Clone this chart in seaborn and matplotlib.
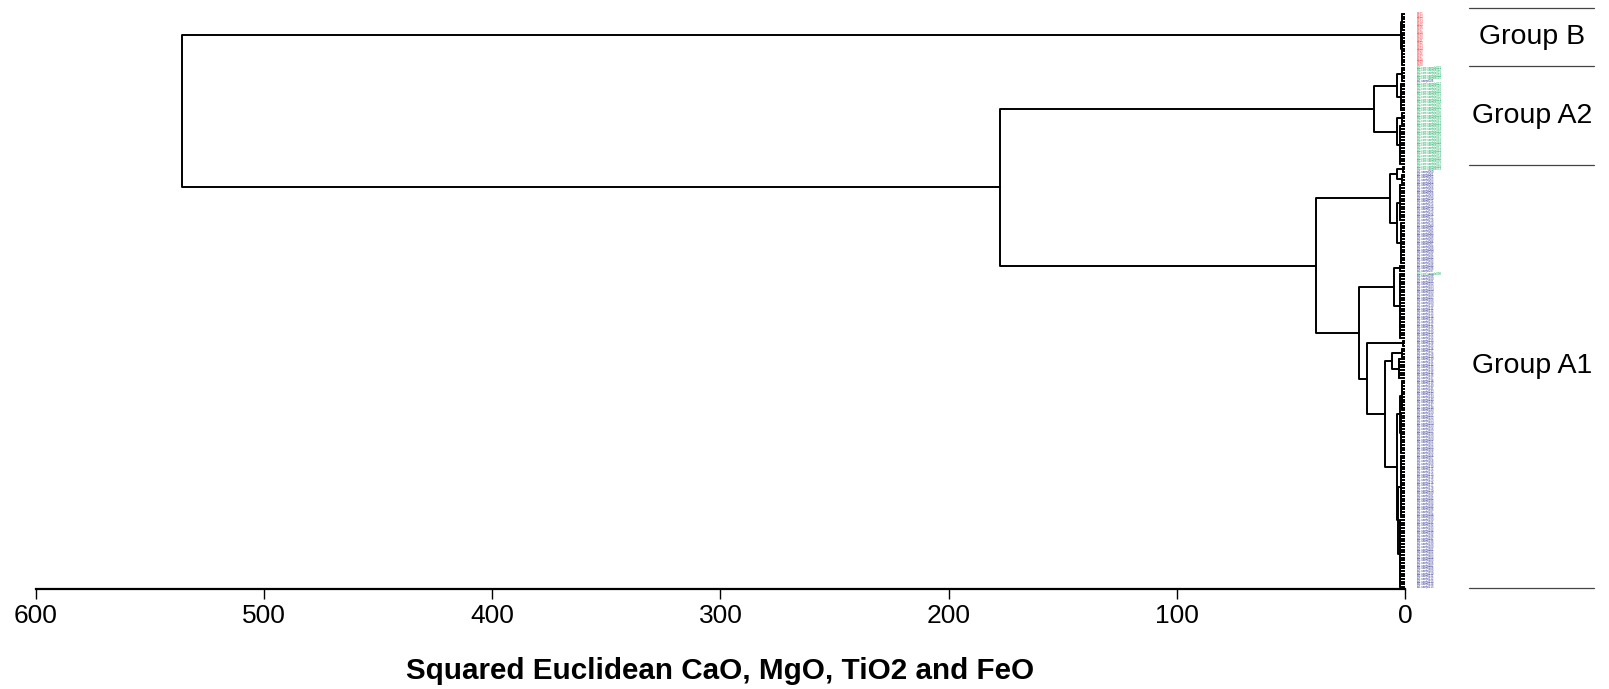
"""
Dendrogram of squared Euclidean distance on CaO, MgO, TiO2 and FeO.

Tree is stored as terminal twigs (tight clusters, drawn as fans) plus a
list of merges with their linkage distance, read off the reference chart.
"""

import numpy as np
import pandas as pd
import matplotlib
matplotlib.use("Agg")
import matplotlib.pyplot as plt
from matplotlib.lines import Line2D
import seaborn as sns

# Terminal clusters, top to bottom
twig_names = ["B1", "B2", "A2a1", "A2a2", "A2b1", "A2b2", "A1a1x", "A1a1y",
              "A1a2x", "A1a2y", "A1b1x", "A1b1y", "A1b2x", "C1x", "C1y",
              "C2ax", "C2ay", "C2bx", "C2by"]
twig_sizes = [7, 13, 6, 11, 5, 15, 3, 4, 14, 16, 3, 25, 3, 4, 8, 12, 16, 24, 26]
twig_heights = [1.2, 1.5, 1.2, 1.8, 1.4, 2.2, 1.0, 1.5, 2.0, 1.6, 2.2, 2.0,
                1.0, 1.5, 2.6, 1.2, 1.8, 1.6, 2.0]
twig_groups = ["B", "B", "A2", "A2", "A2", "A2", "A1", "A1", "A1", "A1", "A1",
               "A1", "A1", "A1", "A1", "A1", "A1", "A1", "A1"]

# Merges (child order = drawing order)
merge_names = ["B", "A2a", "A2b", "A2", "A1a1", "A1a2", "A1a", "A1b1", "C1",
               "C2a", "C2b", "C2", "A1b2b", "A1b2", "A1b", "A1", "A", "root"]
merge_left = ["B1", "A2a1", "A2b1", "A2a", "A1a1x", "A1a2x", "A1a1", "A1b1x",
              "C1x", "C2ax", "C2bx", "C2a", "C1", "A1b2x", "A1b1", "A1a", "A2", "B"]
merge_right = ["B2", "A2a2", "A2b2", "A2b", "A1a1y", "A1a2y", "A1a2", "A1b1y",
               "C1y", "C2ay", "C2by", "C2b", "C2", "A1b2b", "A1b2", "A1b", "A1", "A"]
merge_heights = [1.9, 3.6, 3.6, 13.5, 3.6, 3.6, 6.6, 4.7, 5.8, 2.4, 3.2, 3.6,
                 8.8, 16.8, 20.2, 39.2, 177.3, 536.0]

# Samples whose label colour differs from their cluster
odd_leaf_index = [25, 57, 58, 97]
odd_leaf_group = ["A1", "A2", "A2", "A2"]

group_colors = {"B": "#ee1c24", "A2": "#00a651", "A1": "#2e3192"}
label_prefix = {"B": "B", "A2": "A2-core-sample", "A1": "A1-sampl"}

# Right-hand group annotation
group_names = ["Group B", "Group A2", "Group A1"]
group_label_pos = [8.5, 38.2, 131.5]
group_bounds = [-2.2, 19.6, 56.4, 214.2]


def build_paths():
    """Turn twigs + merges into line segments (dist, pos) per unit"""
    rows = []
    node_pos = {}
    node_h = {}
    unit = 0
    start = 0
    for name, n, h in zip(twig_names, twig_sizes, twig_heights):
        leaves = np.arange(start, start + n)
        # fan: one vertical at h, one horizontal per leaf
        rows += [(unit, 0, h, leaves[0]), (unit, 1, h, leaves[-1])]
        unit += 1
        for lf in leaves:
            rows += [(unit, 0, 0.0, lf), (unit, 1, h, lf)]
            unit += 1
        node_pos[name] = (leaves[0] + leaves[-1]) / 2
        node_h[name] = h
        start += n

    for name, a, b, h in zip(merge_names, merge_left, merge_right, merge_heights):
        ya, yb = node_pos[a], node_pos[b]
        rows += [(unit, 0, node_h[a], ya), (unit, 1, h, ya),
                 (unit, 2, h, yb), (unit, 3, node_h[b], yb)]
        unit += 1
        node_pos[name] = (ya + yb) / 2
        node_h[name] = h

    return pd.DataFrame(rows, columns=["seg", "order", "dist", "pos"]), start


def main():
    sns.set_theme(style="white")
    plt.rcParams["font.family"] = ["Liberation Sans", "DejaVu Sans"]
    plt.rcParams["text.color"] = "black"

    df, n_leaves = build_paths()

    fig = plt.figure(figsize=(16.09, 6.89), dpi=100)
    ax = fig.add_axes([36 / 1609, 1 - 589 / 689, (1405 - 36) / 1609, (589 - 8) / 689])

    sns.lineplot(data=df, x="dist", y="pos", units="seg", estimator=None,
                 sort=False, color="black", linewidth=1.4, ax=ax)

    ax.set_xlim(600, 0)
    ax.set_ylim(n_leaves - 0.25, -2.24)

    # leaf labels
    leaf_groups = []
    for g, n in zip(twig_groups, twig_sizes):
        leaf_groups += [g] * n
    for i, g in zip(odd_leaf_index, odd_leaf_group):
        leaf_groups[i] = g
    for i, g in enumerate(leaf_groups):
        ax.text(-5.2, i, f"{label_prefix[g]}{i + 1:03d}", color=group_colors[g],
                fontsize=2.0, ha="left", va="center", clip_on=False)

    # group brackets on the right
    for yb in group_bounds:
        ax.add_line(Line2D([-28, -83], [yb, yb], color="#444444", lw=0.9,
                           clip_on=False))
    for name, yp in zip(group_names, group_label_pos):
        ax.text(-55.5, yp, name, fontsize=20.5, ha="center", va="center",
                color="black", clip_on=False)

    sns.despine(ax=ax, left=True, top=True, right=True)
    ax.spines["bottom"].set_linewidth(1.6)
    ax.spines["bottom"].set_color("black")
    ax.set_xticks(np.arange(0, 601, 100))
    ax.set_yticks([])
    ax.tick_params(axis="x", direction="out", length=7, width=1.0, bottom=True,
                   labelsize=19, pad=4, colors="black")
    ax.set_ylabel("")
    ax.set_xlabel("Squared Euclidean CaO, MgO, TiO2 and FeO", fontsize=21.3,
                  fontweight="bold", labelpad=21, color="black")

    fig.savefig("out.png", dpi=100)
    plt.close(fig)


if __name__ == "__main__":
    main()
